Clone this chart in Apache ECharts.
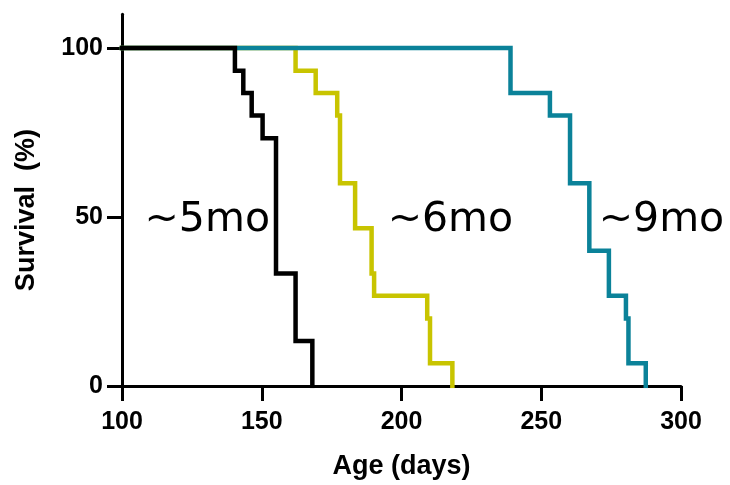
<!DOCTYPE html>
<html>
<head>
<meta charset="utf-8">
<script src="https://cdn.jsdelivr.net/npm/echarts@6/dist/echarts.min.js"></script>
<style>html,body{margin:0;padding:0;background:#fff}#c{width:730px;height:485px}</style>
</head>
<body>
<div id="c"></div>
<script>
// Kaplan-Meier survival data (age in days, survival %)
const blackDays = [100, 140.4, 143.4, 146.4, 150.3, 155.1, 162.1, 168.1];
const blackSurv = [100, 93.3, 86.7, 80, 73.3, 33.3, 13.3, 0];
const yellowDays = [100, 162.1, 169.3, 177.0, 178.0, 183.4, 189.3, 190.2, 209.2, 210.2, 218.2];
const yellowSurv = [100, 93.3, 86.7, 80, 60, 46.7, 33.3, 26.7, 20, 6.7, 0];
const tealDays = [100, 239.0, 253.1, 260.3, 267.2, 274.2, 280.3, 281.2, 287.4];
const tealSurv = [100, 86.7, 80, 60, 40, 26.7, 20, 6.7, 0];
const xTicks = [100, 150, 200, 250, 300];
const yTicks = [0, 50, 100];
const noteText = ['~5mo', '~6mo', '~9mo'];
const noteDay = [130.5, 217.5, 293];
const noteSurv = [49, 49, 49];

const pairs = (xs, ys) => xs.map((x, i) => [x, ys[i]]);
const chart = echarts.init(document.getElementById('c'), null, {renderer: 'canvas'});
const lineSeries = (name, xs, ys, color, z) => ({
  name, type: 'line', step: 'end', data: pairs(xs, ys), symbol: 'none', z,
  lineStyle: {color, width: 4.5, cap: 'square', join: 'miter'}, animation: false
});
chart.setOption({
  animation: false,
  grid: {left: 122, right: 49, top: 14.2, bottom: 99, containLabel: false, outerBoundsMode: 'none'},
  xAxis: {
    type: 'value', min: 100, max: 300, interval: 50,
    name: 'Age (days)', nameLocation: 'middle', nameGap: 67,
    nameTextStyle: {fontFamily: 'Liberation Sans', fontWeight: 'bold', fontSize: 27, color: '#000'},
    axisLine: {show: true, lineStyle: {color: '#000', width: 3}},
    axisTick: {show: true, length: 15, lineStyle: {color: '#000', width: 3}, customValues: xTicks},
    axisLabel: {fontFamily: 'Liberation Sans', fontWeight: 'bold', fontSize: 25, color: '#000', margin: 24, customValues: xTicks},
    splitLine: {show: false}
  },
  yAxis: {
    type: 'value', min: 0, max: 110,
    name: 'Survival  (%)', nameLocation: 'middle', nameGap: 82, nameRotate: 90,
    nameTextStyle: {fontFamily: 'Liberation Sans', fontWeight: 'bold', fontSize: 27, color: '#000', padding: [0, 20, 0, 0]},
    axisLine: {show: true, lineStyle: {color: '#000', width: 3}},
    axisTick: {show: true, length: 15, lineStyle: {color: '#000', width: 3}, customValues: yTicks},
    axisLabel: {fontFamily: 'Liberation Sans', fontWeight: 'bold', fontSize: 25, color: '#000', margin: 19, customValues: yTicks},
    splitLine: {show: false}
  },
  series: [
    lineSeries('6mo', yellowDays, yellowSurv, '#c8c400', 2),
    lineSeries('9mo', tealDays, tealSurv, '#0b8299', 3),
    lineSeries('5mo', blackDays, blackSurv, '#000000', 4),
    {
      type: 'scatter', symbolSize: 0, z: 5, silent: true,
      itemStyle: {opacity: 1},
      data: noteText.map((t, i) => ({value: [noteDay[i], noteSurv[i]], name: t})),
      label: {show: true, position: 'inside', formatter: p => p.name,
        fontFamily: 'DejaVu Sans', fontWeight: 'normal', fontSize: 41, color: '#000'}
    }
  ]
});
</script>
</body>
</html>
